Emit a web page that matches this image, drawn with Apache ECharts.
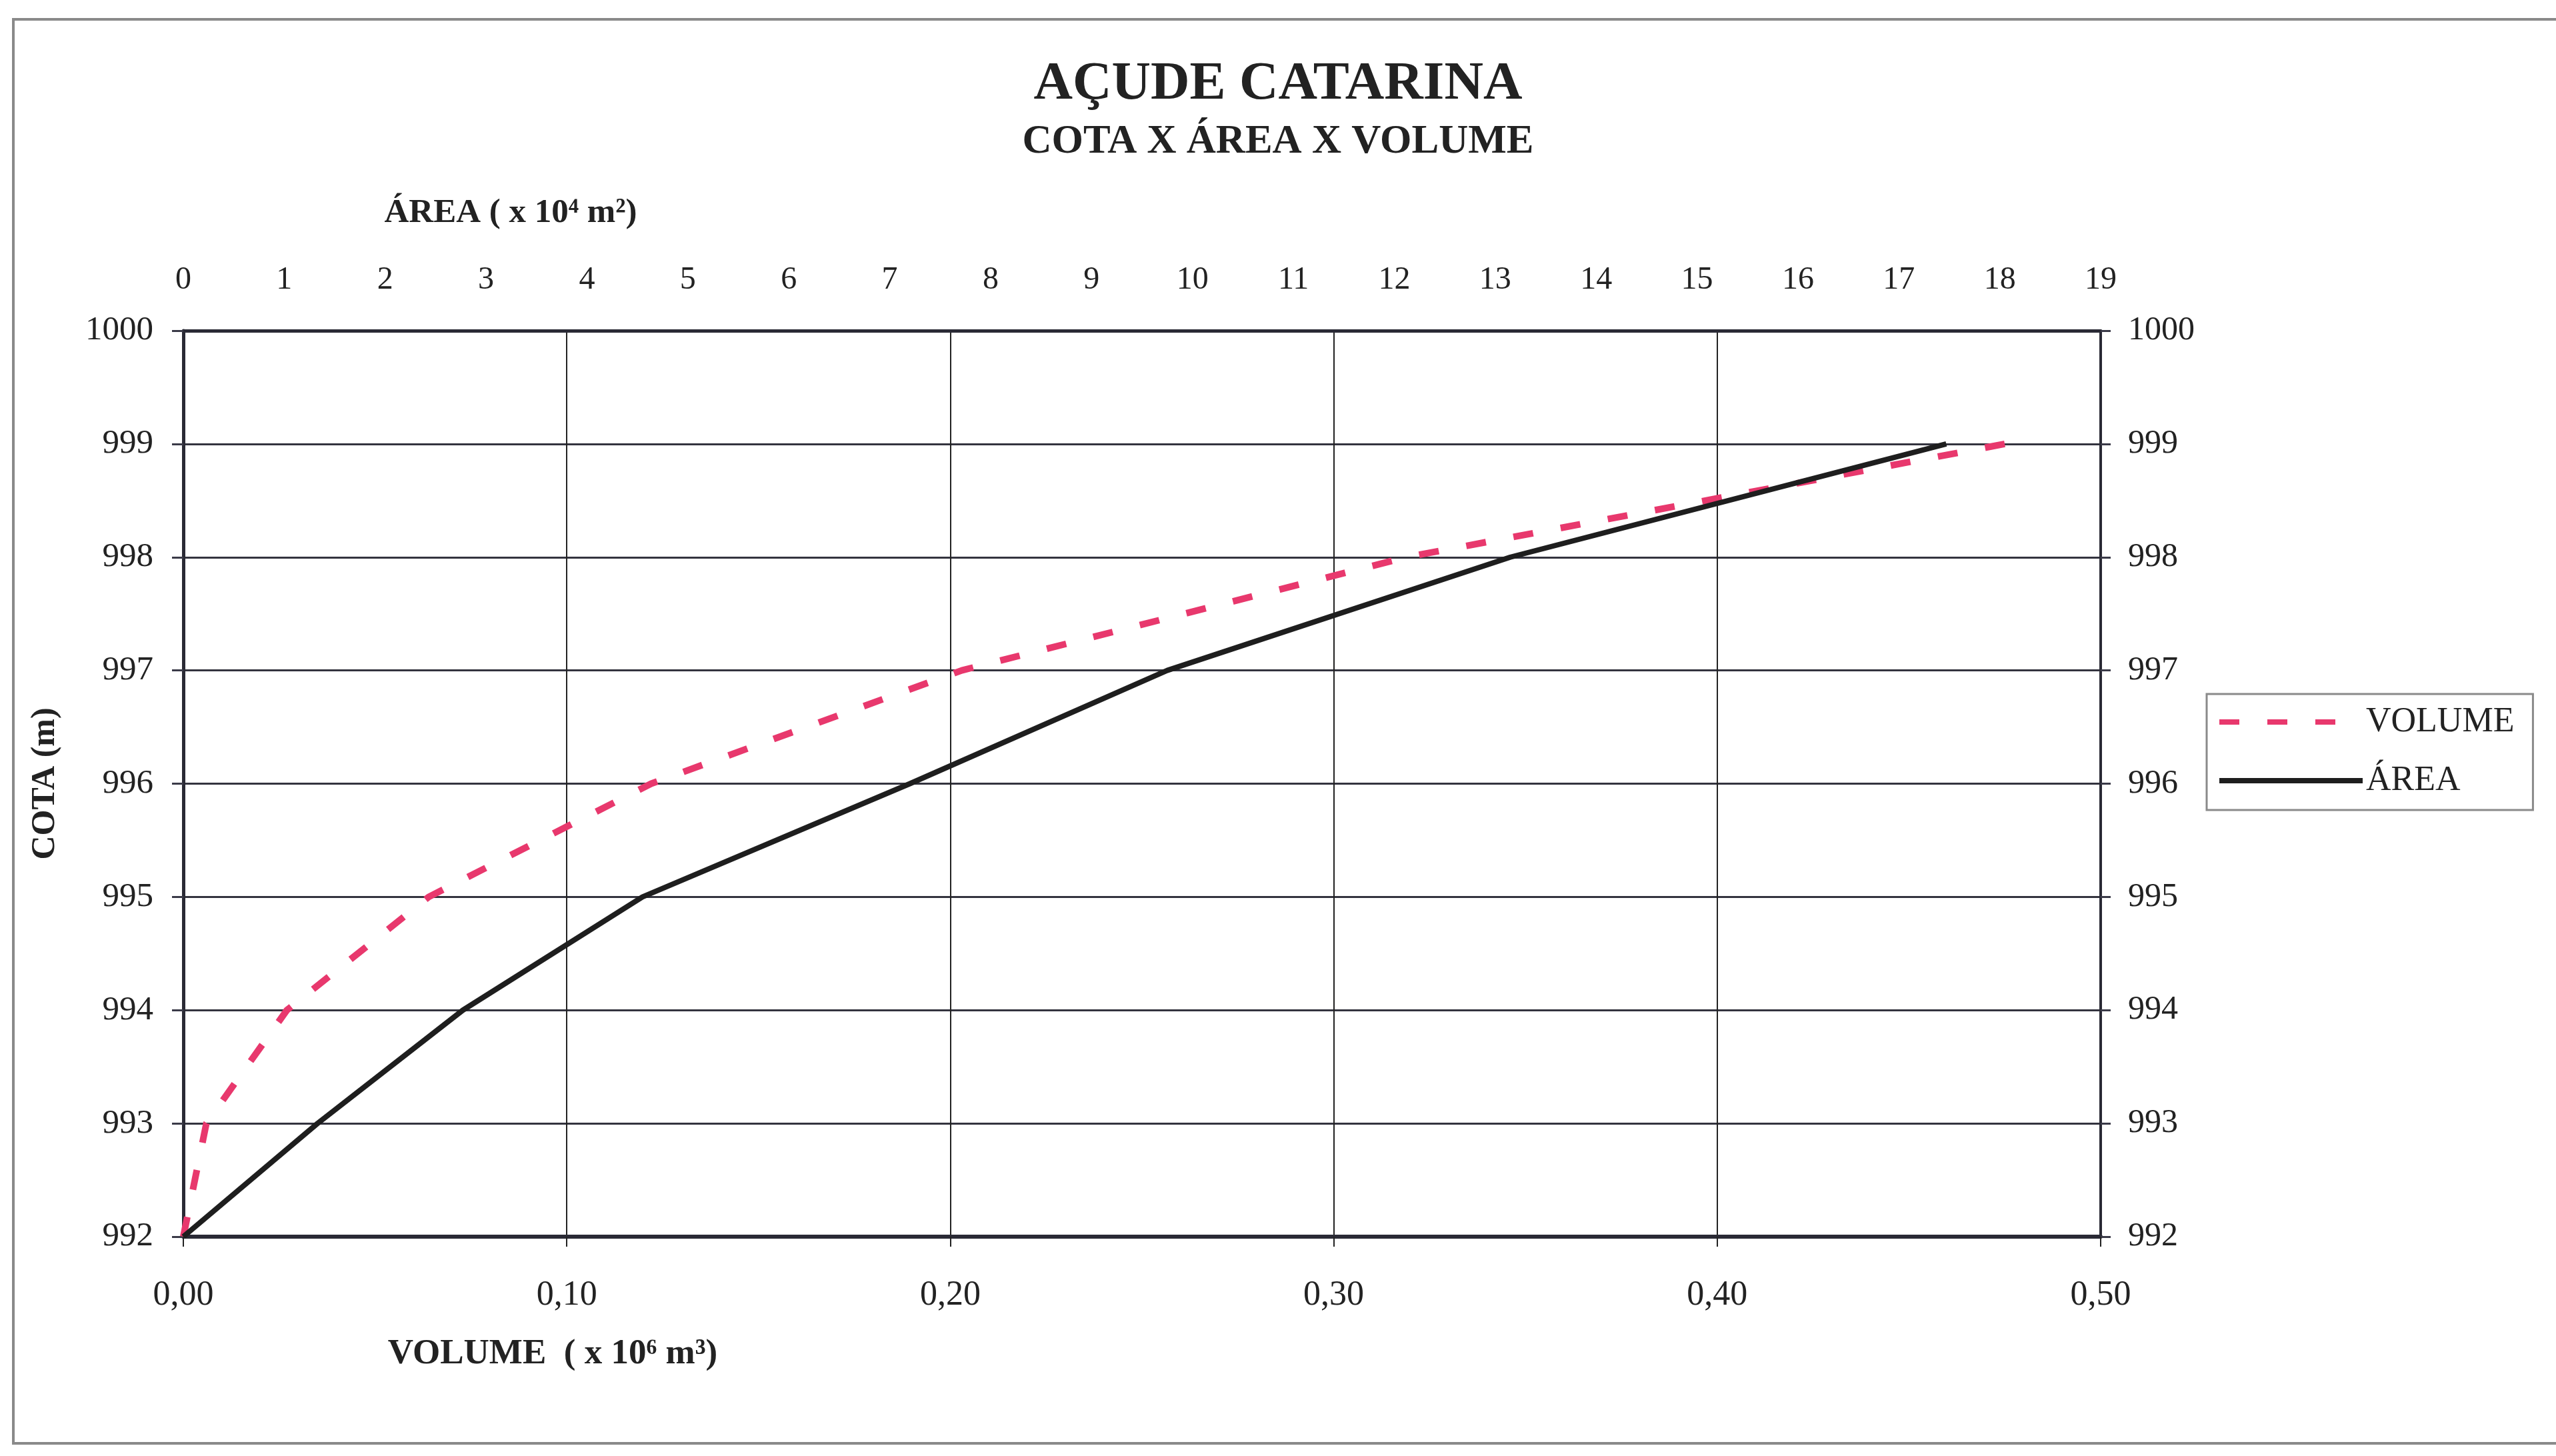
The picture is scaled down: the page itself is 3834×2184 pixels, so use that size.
<!DOCTYPE html>
<html>
<head>
<meta charset="utf-8">
<script src="https://cdn.jsdelivr.net/npm/echarts@6/dist/echarts.min.js"></script>
<style>
  html, body { margin: 0; padding: 0; background: #ffffff; }
  #chart { width: 3834px; height: 2184px; }
</style>
</head>
<body>
<div id="chart"></div>
<script>
// ---- data ----
const cota = [992, 993, 994, 995, 996, 997, 998, 999];                 // m
const volume = [0.000, 0.006, 0.027, 0.064, 0.122, 0.203, 0.319, 0.475]; // x 10^6 m3
const area = [0.00, 1.33, 2.77, 4.55, 7.20, 9.75, 13.15, 17.47];       // x 10^4 m2

const volumeTickLabels = ['0,00', '0,10', '0,20', '0,30', '0,40', '0,50'];
const areaTickLabels = ['0','1','2','3','4','5','6','7','8','9','10','11','12','13','14','15','16','17','18','19'];
const cotaTickLabels = ['992','993','994','995','996','997','998','999','1000'];

const seriesNames = ['VOLUME', 'ÁREA'];
const titleText = 'AÇUDE CATARINA';
const subtitleText = 'COTA X ÁREA X VOLUME';
const volumeAxisName = 'VOLUME  ( x 10⁶ m³)';
const areaAxisName = 'ÁREA ( x 10⁴ m²)';
const cotaAxisName = 'COTA (m)';

const FONT = '"Liberation Serif", "Times New Roman", serif';
const INK = '#222222';

const volumeData = cota.map((c, i) => [volume[i], c]);
const areaData = cota.map((c, i) => [area[i], c]);

const chart = echarts.init(document.getElementById('chart'), null, { renderer: 'canvas' });

chart.setOption({
  animation: false,
  backgroundColor: '#ffffff',
  title: [
    {
      text: titleText,
      left: 'center',
      top: 87,
      padding: [0, 0, 0, 62],
      textStyle: { fontFamily: FONT, fontSize: 81, fontWeight: 'bold', color: INK }
    },
    {
      text: subtitleText,
      left: 'center',
      top: 183,
      padding: [0, 0, 0, 64],
      textStyle: { fontFamily: FONT, fontSize: 61, fontWeight: 'bold', color: INK }
    }
  ],
  legend: {
    data: seriesNames,
    orient: 'vertical',
    left: 3310,
    top: 1041,
    padding: [16, 28, 18, 15],
    itemWidth: 215,
    itemHeight: 50,
    itemGap: 36,
    itemStyle: { opacity: 0 },
    lineStyle: { width: 8 },
    backgroundColor: '#ffffff',
    borderColor: '#8a8a8a',
    borderWidth: 3,
    borderRadius: 0,
    textStyle: { fontFamily: FONT, fontSize: 52, color: INK, lineHeight: 50 }
  },
  grid: {
    left: 275,
    right: 683,
    top: 496,
    bottom: 329,
    containLabel: false
  },
  xAxis: [
    {
      type: 'value',
      position: 'bottom',
      min: 0,
      max: 0.5,
      interval: 0.1,
      axisLine: { show: true, onZero: false, lineStyle: { color: '#2a2a35', width: 6 } },
      axisTick: { show: true, length: 15, lineStyle: { color: '#222', width: 2 } },
      axisLabel: {
        margin: 62,
        fontFamily: FONT, fontSize: 52, color: INK,
        formatter: (v, i) => volumeTickLabels[i] !== undefined ? volumeTickLabels[i] : ''
      },
      splitLine: { show: true, lineStyle: { color: '#222', width: 2 } }
    },
    {
      type: 'value',
      position: 'top',
      min: 0,
      max: 19,
      interval: 1,
      axisLine: { show: true, onZero: false, lineStyle: { color: '#2a2a35', width: 5 } },
      axisTick: { show: false },
      axisLabel: {
        margin: 52,
        fontFamily: FONT, fontSize: 48, color: INK,
        formatter: (v, i) => areaTickLabels[i] !== undefined ? areaTickLabels[i] : ''
      },
      splitLine: { show: false }
    }
  ],
  yAxis: [
    {
      type: 'value',
      position: 'left',
      min: 992,
      max: 1000,
      interval: 1,
      name: cotaAxisName,
      nameLocation: 'middle',
      nameGap: 182,
      nameRotate: 90,
      nameTextStyle: { fontFamily: FONT, fontSize: 50, fontWeight: 'bold', color: INK },
      axisLine: { show: true, onZero: false, lineStyle: { color: '#2a2a35', width: 5 } },
      axisTick: { show: true, length: 17, lineStyle: { color: '#3a3a48', width: 3 } },
      axisLabel: {
        margin: 45,
        fontFamily: FONT, fontSize: 51, color: INK,
        formatter: (v, i) => cotaTickLabels[i] !== undefined ? cotaTickLabels[i] : ''
      },
      splitLine: { show: true, lineStyle: { color: '#34343f', width: 3 } }
    },
    {
      type: 'value',
      position: 'right',
      min: 992,
      max: 1000,
      interval: 1,
      axisLine: { show: true, onZero: false, lineStyle: { color: '#2a2a35', width: 4 } },
      axisTick: { show: true, length: 15, lineStyle: { color: '#3a3a48', width: 3 } },
      axisLabel: {
        margin: 41,
        fontFamily: FONT, fontSize: 50, color: INK,
        formatter: (v, i) => cotaTickLabels[i] !== undefined ? cotaTickLabels[i] : ''
      },
      splitLine: { show: false }
    }
  ],
  series: [
    {
      name: seriesNames[0],
      type: 'line',
      xAxisIndex: 0,
      yAxisIndex: 0,
      data: volumeData,
      symbol: 'none',
      z: 3,
      lineStyle: { color: '#e8386d', width: 10, type: [30, 42], cap: 'butt' },
      itemStyle: { color: '#e8386d' }
    },
    {
      name: seriesNames[1],
      type: 'line',
      xAxisIndex: 1,
      yAxisIndex: 0,
      data: areaData,
      symbol: 'none',
      z: 4,
      lineStyle: { color: '#1e1e1e', width: 8, type: 'solid' },
      itemStyle: { color: '#1e1e1e' }
    }
  ],
  graphic: [
    {
      type: 'rect',
      silent: true,
      z: -10,
      shape: { x: 20, y: 29, width: 3900, height: 2136 },
      style: { fill: 'none', stroke: '#8a8a8a', lineWidth: 4 }
    },
    {
      type: 'text',
      silent: true,
      style: {
        x: 766, y: 320, text: areaAxisName,
        textAlign: 'center', textVerticalAlign: 'middle',
        font: 'bold 51px ' + FONT, fill: INK
      }
    },
    {
      type: 'text',
      silent: true,
      style: {
        x: 829, y: 2031, text: volumeAxisName,
        textAlign: 'center', textVerticalAlign: 'middle',
        font: 'bold 53px ' + FONT, fill: INK
      }
    }
  ]
});
</script>
</body>
</html>
